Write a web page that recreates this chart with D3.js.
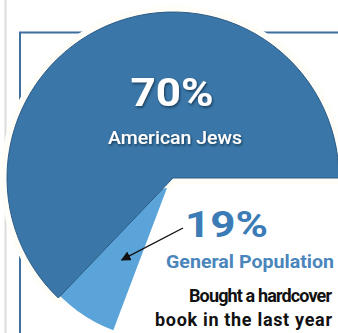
<!DOCTYPE html>
<html>
<head>
  <title>Hardcover books</title>
  <script src="https://d3js.org/d3.v7.min.js"></script>
  <style>
    body { margin: 0; background: #fff; }
    text { font-family: Roboto, "Open Sans", sans-serif; }
  </style>
</head>
<body>
  <svg id="chart"></svg>
  <script>
    // data
    const groups = ["American Jews", "General Population"];
    const shares = [70, 19];
    const shareLabels = ["70%", "19%"];
    const caption = ["Bought a hardcover", "book in the last year"];

    const width = 338, height = 333;
    const cx = 173, cy = 178, r = 166;
    const colors = ["#3a76a7", "#5ba4d9"];

    const svg = d3.select("#chart")
        .attr("width", width)
        .attr("height", height);

    // drop shadow for the white text
    const defs = svg.append("defs");
    defs.append("filter").attr("id", "shadow")
        .attr("x", "-20%").attr("y", "-20%").attr("width", "140%").attr("height", "140%")
      .append("feDropShadow")
        .attr("dx", 1).attr("dy", 1.5).attr("stdDeviation", 1)
        .attr("flood-color", "#0e2a45").attr("flood-opacity", 0.8);
    defs.append("marker").attr("id", "head")
        .attr("viewBox", "0 0 10 10").attr("refX", 9).attr("refY", 5)
        .attr("markerWidth", 7).attr("markerHeight", 7).attr("orient", "auto")
      .append("path").attr("d", "M0,0 L10,5 L0,10 z").attr("fill", "#111");

    // page frame
    svg.append("line").attr("x1", 5.5).attr("x2", 5.5).attr("y1", 0).attr("y2", height)
        .attr("stroke", "#dcdcdc").attr("stroke-width", 2);
    svg.append("path").attr("d", `M20,${height} V32.5 H${width}`)
        .attr("fill", "none").attr("stroke", "#3d6f9f").attr("stroke-width", 2);

    // angle scale (percent -> radians)
    const angle = d3.scaleLinear().domain([0, 100]).range([0, 2 * Math.PI * 0.898]);
    const darkEnd = Math.PI / 2;
    const darkStart = darkEnd - angle(shares[0]);
    const lightStart = darkStart - 23 * Math.PI / 180;
    const lightEnd = lightStart + angle(shares[1]);

    const arcBig = d3.arc().innerRadius(0).outerRadius(r);
    const arcSmall = d3.arc().innerRadius(0).outerRadius(152);

    const pie = svg.append("g").attr("transform", `translate(${cx},${cy})`);

    // white halo behind the pie
    pie.append("path")
        .attr("d", arcBig({startAngle: darkStart, endAngle: darkEnd}))
        .attr("fill", "#fff").attr("stroke", "#fffdf7").attr("stroke-width", 13)
        .attr("stroke-linejoin", "round");

    const lightG = pie.append("g").attr("transform", "translate(-6,10)");
    lightG.append("path")
        .attr("d", arcSmall({startAngle: lightStart, endAngle: lightEnd}))
        .attr("fill", colors[1]);

    pie.append("path")
        .attr("d", arcBig({startAngle: darkStart, endAngle: darkEnd}))
        .attr("fill", colors[0]).attr("stroke", "#2c5c86").attr("stroke-width", 1);

    // labels
    svg.append("text").attr("x", 172).attr("y", 106)
        .attr("text-anchor", "middle").attr("fill", "#fff")
        .attr("font-size", 38).attr("font-weight", 700)
        .attr("textLength", 83).attr("lengthAdjust", "spacingAndGlyphs")
        .attr("filter", "url(#shadow)")
        .text(shareLabels[0]);
    svg.append("text").attr("x", 175).attr("y", 144)
        .attr("text-anchor", "middle").attr("fill", "#fff")
        .attr("font-size", 18).attr("font-weight", 500)
        .attr("textLength", 134).attr("lengthAdjust", "spacingAndGlyphs")
        .attr("filter", "url(#shadow)")
        .text(groups[0]);

    svg.append("text").attr("x", 185).attr("y", 237)
        .attr("fill", "#3b7bb6")
        .attr("font-size", 36).attr("font-weight", 700)
        .attr("textLength", 83).attr("lengthAdjust", "spacingAndGlyphs")
        .text(shareLabels[1]);
    svg.append("text").attr("x", 166).attr("y", 268)
        .attr("fill", "#4a86bb")
        .attr("font-size", 19).attr("font-weight", 700)
        .attr("textLength", 168).attr("lengthAdjust", "spacingAndGlyphs")
        .text(groups[1]);

    // arrow into the small slice
    const mid = (lightStart + lightStart + 23 * Math.PI / 180) / 2;
    const tip = [cx - 6 + Math.sin(mid) * 85, cy + 10 - Math.cos(mid) * 85];
    svg.append("line").attr("x1", 183).attr("y1", 228).attr("x2", tip[0]).attr("y2", tip[1])
        .attr("stroke", "#111").attr("stroke-width", 1.4).attr("marker-end", "url(#head)");

    const capW = [143, 177];
    svg.selectAll(".cap").data(caption).enter().append("text")
        .attr("class", "cap")
        .attr("x", 332).attr("y", (d, i) => 302 + i * 24)
        .attr("text-anchor", "end").attr("fill", "#111")
        .attr("font-size", 18).attr("font-weight", 700)
        .attr("textLength", (d, i) => capW[i]).attr("lengthAdjust", "spacing")
        .text(d => d);
  </script>
</body>
</html>
